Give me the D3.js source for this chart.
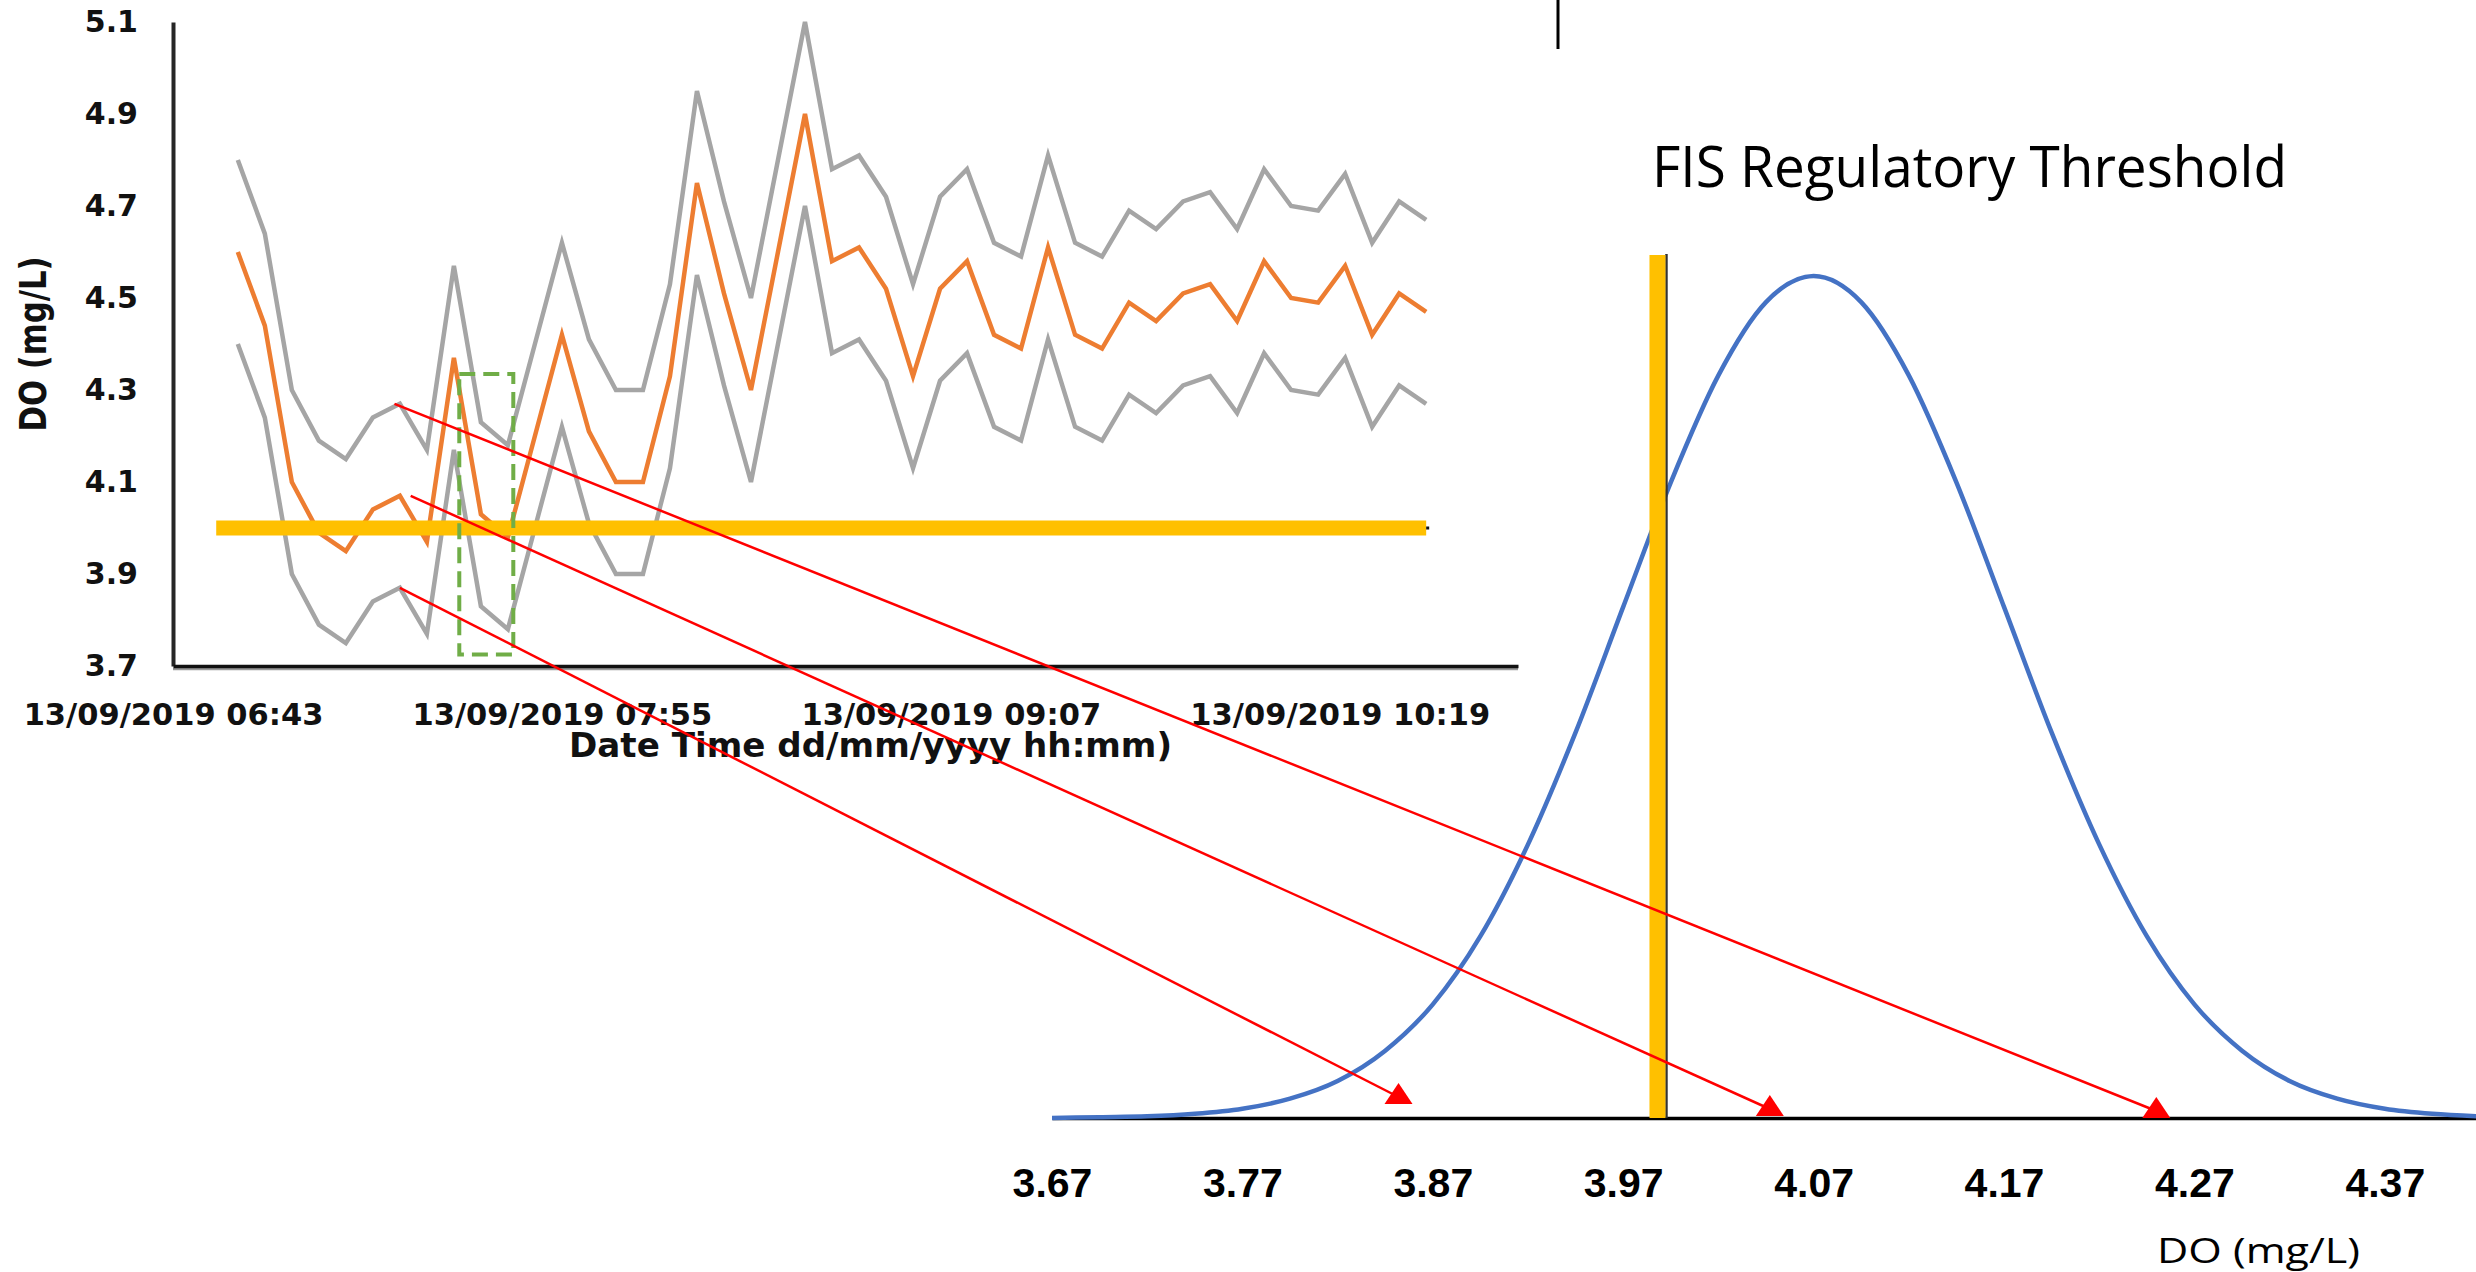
<!DOCTYPE html>
<html>
<head>
<meta charset="utf-8">
<script src="https://cdn.jsdelivr.net/npm/d3@7"></script>
<style>
  html, body { margin: 0; padding: 0; background: #fff; }
  svg { display: block; }
</style>
</head>
<body>
<div id="chart"></div>
<script>
// time series: DO mean and ±band, 5 min readings on 13/09/2019
const times = ["06:55","07:00","07:05","07:10","07:15","07:20","07:25","07:30","07:35","07:40",
  "07:45","07:50","07:55","08:00","08:05","08:10","08:15","08:20","08:25","08:30",
  "08:35","08:40","08:45","08:50","08:55","09:00","09:05","09:10","09:15","09:20",
  "09:25","09:30","09:35","09:40","09:45","09:50","09:55","10:00","10:05","10:10",
  "10:15","10:20","10:25","10:30","10:35"];
const doMean = [4.60,4.44,4.10,3.99,3.95,4.04,4.07,3.97,4.37,4.03,
  3.98,4.20,4.42,4.21,4.10,4.10,4.33,4.75,4.51,4.30,
  4.60,4.90,4.58,4.61,4.52,4.33,4.52,4.58,4.42,4.39,
  4.61,4.42,4.39,4.49,4.45,4.51,4.53,4.45,4.58,4.50,
  4.49,4.57,4.42,4.51,4.47];
const doUpper = [4.80,4.64,4.30,4.19,4.15,4.24,4.27,4.17,4.57,4.23,
  4.18,4.40,4.62,4.41,4.30,4.30,4.53,4.95,4.71,4.50,
  4.80,5.10,4.78,4.81,4.72,4.53,4.72,4.78,4.62,4.59,
  4.81,4.62,4.59,4.69,4.65,4.71,4.73,4.65,4.78,4.70,
  4.69,4.77,4.62,4.71,4.67];
const doLower = [4.40,4.24,3.90,3.79,3.75,3.84,3.87,3.77,4.17,3.83,
  3.78,4.00,4.22,4.01,3.90,3.90,4.13,4.55,4.31,4.10,
  4.40,4.70,4.38,4.41,4.32,4.13,4.32,4.38,4.22,4.19,
  4.41,4.22,4.19,4.29,4.25,4.31,4.33,4.25,4.38,4.30,
  4.29,4.37,4.22,4.31,4.27];
const timeDomain = ["06:43", "10:52"];
const timeTicks = ["06:43", "07:55", "09:07", "10:19"];
const doDomain = [3.7, 5.1];
const doTicks = [3.7, 3.9, 4.1, 4.3, 4.5, 4.7, 4.9, 5.1];

// threshold bar and highlighted window
const threshold = 4.0;
const thresholdSpan = ["06:51", "10:35"];
const windowTimes = ["07:36", "07:46"];
const windowValues = [3.725, 4.335];

// distribution of DO (relative density)
const distX = [3.670,3.695,3.720,3.745,3.770,3.795,3.820,3.845,3.870,3.895,
  3.920,3.945,3.970,3.995,4.020,4.045,4.070,4.095,4.120,4.145,
  4.170,4.195,4.220,4.245,4.270,4.295,4.320,4.345,4.370,4.395,4.420];
const distDensity = [0.000,0.001,0.002,0.005,0.011,0.023,0.044,0.080,0.135,0.216,
  0.325,0.458,0.607,0.755,0.882,0.969,1.000,0.969,0.882,0.755,
  0.607,0.458,0.325,0.216,0.135,0.080,0.044,0.023,0.011,0.005,0.002];
const distDomain = [3.67, 4.42];
const distTicks = [3.67, 3.77, 3.87, 3.97, 4.07, 4.17, 4.27, 4.37];
const thresholdMark = 3.988;

// arrows from the series to the distribution axis
const arrowFromTime = ["07:25", "07:27", "07:24"];
const arrowFromValue = [3.87, 4.07, 4.27];
const arrowToValue = [3.852, 4.047, 4.250];
const arrowLift = [21, 9, 7];

const W = 2476, H = 1272;
const parseTime = d3.timeParse("%d/%m/%Y %H:%M");
const t = s => parseTime("13/09/2019 " + s);

const svg = d3.select("#chart").append("svg")
    .attr("width", W).attr("height", H)
    .style("background", "#fff");

// ---------- left: time series ----------
const x = d3.scaleTime().domain(timeDomain.map(t)).range([173, 1518]);
const y = d3.scaleLinear().domain(doDomain).range([666, 22]);

const left = svg.append("g").attr("class", "series");

const line = d3.line().x(d => x(d.t)).y(d => y(d.v));
const toPts = vals => vals.map((v, i) => ({t: t(times[i]), v}));

left.append("path").datum(toPts(doUpper))
    .attr("fill", "none").attr("stroke", "#A5A5A5").attr("stroke-width", 4.5)
    .attr("stroke-linejoin", "miter").attr("d", line);
left.append("path").datum(toPts(doLower))
    .attr("fill", "none").attr("stroke", "#A5A5A5").attr("stroke-width", 4.5)
    .attr("d", line);
left.append("path").datum(toPts(doMean))
    .attr("fill", "none").attr("stroke", "#ED7D31").attr("stroke-width", 4.5)
    .attr("d", line);

// axes
const yAxis = left.append("g")
    .attr("transform", `translate(${x.range()[0]},0)`)
    .call(d3.axisLeft(y).tickValues(doTicks).tickFormat(d3.format(".1f"))
        .tickSize(0).tickSizeOuter(0).tickPadding(35));
yAxis.select(".domain").attr("stroke", "#262626").attr("stroke-width", 4);
yAxis.selectAll("text")
    .attr("font-family", "DejaVu Sans").attr("font-weight", "bold")
    .attr("font-size", 30).attr("fill", "#111");

const xAxis = left.append("g")
    .attr("transform", `translate(0,${y.range()[0]})`)
    .call(d3.axisBottom(x).tickValues(timeTicks.map(t))
        .tickFormat(d3.timeFormat("%d/%m/%Y %H:%M"))
        .tickSize(0).tickSizeOuter(0));
xAxis.select(".domain").attr("stroke", "#111").attr("stroke-width", 3.5);
xAxis.insert("line", ".domain")
    .attr("x1", x.range()[0]).attr("x2", x.range()[1])
    .attr("y1", 3).attr("y2", 3)
    .attr("stroke", "#9a9a9a").attr("stroke-width", 2.5);
xAxis.selectAll("text")
    .attr("y", 59).attr("dy", 0)
    .attr("font-family", "DejaVu Sans").attr("font-weight", "bold")
    .attr("font-size", 30.5).attr("fill", "#111");

left.append("text")
    .attr("x", 569).attr("y", 757)
    .attr("font-family", "DejaVu Sans").attr("font-weight", "bold")
    .attr("font-size", 33).attr("fill", "#111")
    .attr("textLength", 603).attr("lengthAdjust", "spacingAndGlyphs")
    .text("Date Time dd/mm/yyyy hh:mm)");

left.append("text")
    .attr("transform", "translate(46,344) rotate(-90)")
    .attr("text-anchor", "middle")
    .attr("font-family", "DejaVu Sans").attr("font-weight", "bold")
    .attr("font-size", 38).attr("fill", "#111")
    .attr("textLength", 175).attr("lengthAdjust", "spacingAndGlyphs")
    .text("DO (mg/L)");

// threshold bar
left.append("line")
    .attr("x1", x(t(thresholdSpan[0]))).attr("x2", x(t(thresholdSpan[1])))
    .attr("y1", y(threshold)).attr("y2", y(threshold))
    .attr("stroke", "#FFC000").attr("stroke-width", 15);
left.append("rect")
    .attr("x", x(t(thresholdSpan[1]))).attr("y", y(threshold) - 1.5)
    .attr("width", 3).attr("height", 3).attr("fill", "#111");

// highlighted window
left.append("rect")
    .attr("x", x(t(windowTimes[0]))).attr("y", y(windowValues[1]))
    .attr("width", x(t(windowTimes[1])) - x(t(windowTimes[0])))
    .attr("height", y(windowValues[0]) - y(windowValues[1]))
    .attr("fill", "none").attr("stroke", "#70AD47")
    .attr("stroke-width", 4).attr("stroke-dasharray", "16,8");

// ---------- right: distribution ----------
const xr = d3.scaleLinear().domain(distDomain).range([1052, 2480]);
const yr = d3.scaleLinear().domain([0, 1]).range([1118, 276]);

const right = svg.append("g").attr("class", "dist");

const rAxis = right.append("g")
    .attr("transform", `translate(0,${yr(0)})`)
    .call(d3.axisBottom(xr).tickValues(distTicks).tickFormat(d3.format(".2f"))
        .tickSize(0).tickSizeOuter(0));
rAxis.select(".domain").attr("stroke", "#000").attr("stroke-width", 3.5);
rAxis.selectAll("text")
    .attr("y", 79).attr("dy", 0)
    .attr("font-family", "Liberation Sans").attr("font-weight", "bold")
    .attr("font-size", 41).attr("fill", "#000");

right.append("path")
    .datum(distX.map((v, i) => [v, distDensity[i]]))
    .attr("fill", "none").attr("stroke", "#4472C4").attr("stroke-width", 4.5)
    .attr("d", d3.line().x(d => xr(d[0])).y(d => yr(d[1])).curve(d3.curveMonotoneX));

// regulatory threshold marker
const tx = xr(thresholdMark);
right.append("line")
    .attr("x1", tx + 9).attr("x2", tx + 9)
    .attr("y1", 254).attr("y2", yr(0))
    .attr("stroke", "#333").attr("stroke-width", 2.5);
right.append("line")
    .attr("x1", tx).attr("x2", tx)
    .attr("y1", 255).attr("y2", yr(0))
    .attr("stroke", "#FFC000").attr("stroke-width", 16);

right.append("text")
    .attr("x", 1652).attr("y", 187)
    .attr("font-family", "Open Sans").attr("font-size", 56).attr("fill", "#000")
    .attr("textLength", 635).attr("lengthAdjust", "spacingAndGlyphs")
    .text("FIS Regulatory Threshold");

right.append("text")
    .attr("x", 2157).attr("y", 1263)
    .attr("font-family", "Open Sans").attr("font-size", 35).attr("fill", "#000")
    .attr("textLength", 203).attr("lengthAdjust", "spacingAndGlyphs")
    .text("DO (mg/L)");

// separator tick at the top
svg.append("line")
    .attr("x1", 1558).attr("x2", 1558).attr("y1", 0).attr("y2", 49)
    .attr("stroke", "#000").attr("stroke-width", 3);

// ---------- arrows ----------
const arrows = svg.append("g").attr("class", "arrows");
arrowFromValue.forEach((v, i) => {
    const x0 = x(t(arrowFromTime[i])), y0 = y(v);
    const x1 = xr(arrowToValue[i]), y1 = yr(0) - arrowLift[i];
    arrows.append("line")
        .attr("x1", x0).attr("y1", y0).attr("x2", x1).attr("y2", y1)
        .attr("stroke", "#FF0000").attr("stroke-width", 2.5);
    arrows.append("path")
        .attr("d", `M${x1},${y1 - 14}L${x1 + 14},${y1 + 7}L${x1 - 14},${y1 + 7}Z`)
        .attr("fill", "#FF0000");
});
</script>
</body>
</html>
